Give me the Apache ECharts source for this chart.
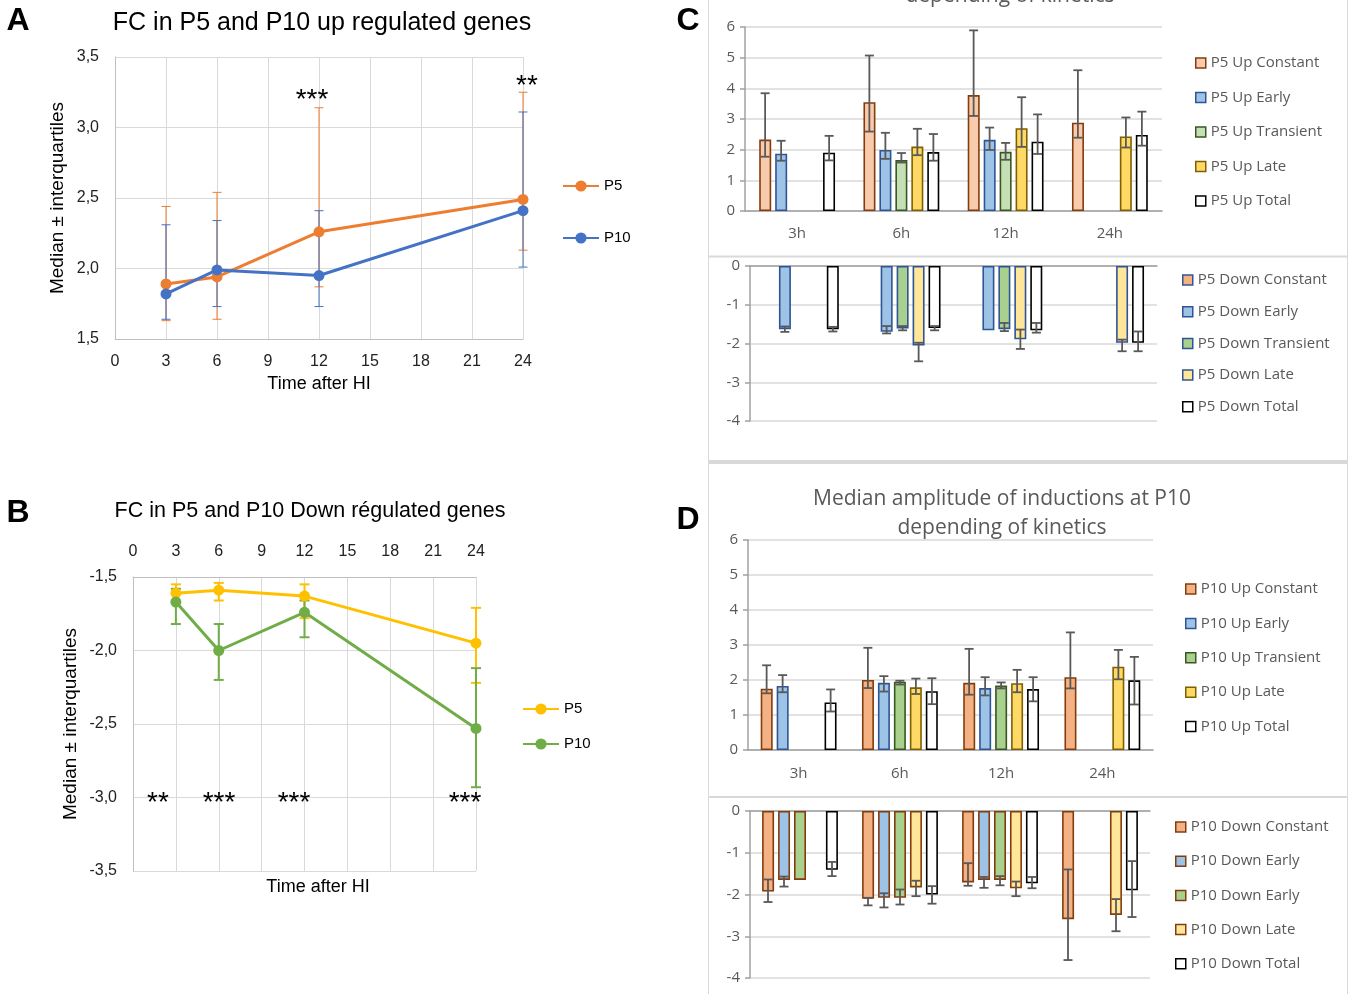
<!DOCTYPE html>
<html>
<head>
<meta charset="utf-8">
<script src="https://cdn.jsdelivr.net/npm/echarts@6/dist/echarts.min.js"></script>
<style>
html, body { margin: 0; padding: 0; background: #fff; }
#main { width: 1352px; height: 994px; }
</style>
</head>
<body>
<div id="main"></div>
<script>
// ---- data, panels A and B (median with interquartile range) ----
var times = [3, 6, 12, 24];
var aP5 = [1.89, 1.94, 2.26, 2.49];
var aP5Low = [1.63, 1.64, 1.87, 2.13];
var aP5High = [2.44, 2.54, 3.14, 3.25];
var aP10 = [1.82, 1.99, 1.95, 2.41];
var aP10Low = [1.64, 1.73, 1.73, 2.01];
var aP10High = [2.31, 2.34, 2.41, 3.11];

var bP5 = [-1.61, -1.59, -1.63, -1.95];
var bP5Low = [-1.67, -1.66, -1.78, -2.22];
var bP5High = [-1.55, -1.54, -1.55, -1.71];
var bP10 = [-1.67, -2.00, -1.74, -2.53];
var bP10Low = [-1.82, -2.20, -1.91, -2.93];
var bP10High = [-1.58, -1.82, -1.66, -2.12];

// ---- data, panels C and D (rows = kinetics, columns = hours) ----
var hours = ['3h', '6h', '12h', '24h'];

var cUpNames = ['P5 Up Constant', 'P5 Up Early', 'P5 Up Transient', 'P5 Up Late', 'P5 Up Total'];
var cUpMedian = [[2.33, 3.55, 3.78, 2.88], [1.87, 1.99, 2.32, null], [null, 1.66, 1.93, null], [null, 2.10, 2.70, 2.43], [1.90, 1.92, 2.26, 2.48]];
var cUpLow = [[1.77, 2.59, 3.10, 2.39], [1.64, 1.70, 1.99, null], [null, 1.58, 1.67, null], [null, 1.82, 2.09, 2.07], [1.65, 1.64, 1.86, 2.13]];
var cUpHigh = [[3.84, 5.07, 5.89, 4.59], [2.29, 2.55, 2.72, null], [null, 1.89, 2.22, null], [null, 2.68, 3.71, 3.05], [2.45, 2.51, 3.15, 3.24]];

var cDownNames = ['P5 Down Constant', 'P5 Down Early', 'P5 Down Transient', 'P5 Down Late', 'P5 Down Total'];
var cDownMedian = [[null, null, null, null], [-1.63, -1.70, -1.66, null], [null, -1.61, -1.63, null], [null, -2.05, -1.89, -1.98], [-1.63, -1.60, -1.66, -1.98]];
var cDownLow = [[null, null, null, null], [-1.70, -1.74, null, null], [null, -1.66, -1.68, null], [null, -2.46, -2.14, -2.20], [-1.69, -1.66, -1.72, -2.20]];
var cDownHigh = [[null, null, null, null], [-1.56, -1.55, null, null], [null, -1.55, -1.47, null], [null, -1.98, -1.64, -1.90], [-1.57, -1.55, -1.47, -1.69]];

var dUpNames = ['P10 Up Constant', 'P10 Up Early', 'P10 Up Transient', 'P10 Up Late', 'P10 Up Total'];
var dUpMedian = [[1.75, 2.00, 1.92, 2.08], [1.83, 1.92, 1.77, null], [null, 1.95, 1.84, null], [null, 1.79, 1.91, 2.38], [1.36, 1.68, 1.74, 1.99]];
var dUpLow = [[1.62, 1.77, 1.58, 1.76], [1.65, 1.67, 1.56, null], [null, 1.87, 1.76, null], [null, 1.60, 1.65, 2.02], [1.10, 1.31, 1.39, 1.30]];
var dUpHigh = [[2.42, 2.92, 2.89, 3.36], [2.14, 2.11, 2.08, null], [null, 1.98, 1.93, null], [null, 2.04, 2.29, 2.86], [1.73, 2.05, 2.08, 2.66]];

var dDownNames = ['P10 Down Constant', 'P10 Down Early', 'P10 Down Early', 'P10 Down Late', 'P10 Down Total'];
var dDownMedian = [[-1.93, -2.10, -1.71, -2.59], [-1.65, -2.08, -1.65, null], [-1.65, -2.08, -1.65, null], [null, -1.83, -1.85, -2.49], [-1.41, -2.00, -1.73, -1.90]];
var dDownLow = [[-2.18, -2.26, -1.79, -3.57], [-1.81, -2.31, -1.84, null], [null, -2.24, -1.78, null], [null, -2.04, -2.04, -2.88], [-1.56, -2.22, -1.85, -2.54]];
var dDownHigh = [[-1.64, -2.08, -1.25, -1.40], [-1.57, -1.97, -1.58, null], [null, -1.88, -1.56, null], [null, -1.67, -1.69, -2.11], [-1.22, -1.80, -1.58, -1.20]];

// ---- styles ----
var FONT = '"Liberation Sans", Arial, sans-serif';
var FONT2 = '"Open Sans", "Liberation Sans", sans-serif';
var GREY = '#595959';
var upFillC = ['#F8CBAD', '#9DC3E6', '#C5E0B4', '#FFD966', '#FFFFFF'];
var upBorder = ['#843C0C', '#2F5597', '#385723', '#7F6000', '#000000'];
var upFillD = ['#F4B183', '#9DC3E6', '#A9D18E', '#FFD966', '#FFFFFF'];
var downFill = ['#F4B183', '#9DC3E6', '#A9D18E', '#FFE699', '#FFFFFF'];
var cDownBorder = ['#2F5597', '#2F5597', '#2F5597', '#2F5597', '#000000'];
var dDownBorder = ['#843C0C', '#843C0C', '#843C0C', '#843C0C', '#000000'];

var comma = function (v) { return v.toFixed(1).replace('.', ','); };
var strip = function (n) { return n.split('|')[0]; };

function errSeries(id, gi, data, color, width, cap, offset, z) {
  return {
    type: 'custom', id: id, xAxisIndex: gi, yAxisIndex: gi, z: z, silent: true,
    data: data,
    renderItem: function (params, api) {
      var lo = api.coord([api.value(0), api.value(1)]);
      var hi = api.coord([api.value(0), api.value(2)]);
      var x = lo[0] + offset;
      var st = { stroke: color, lineWidth: width };
      return { type: 'group', children: [
        { type: 'line', shape: { x1: x, y1: lo[1], x2: x, y2: hi[1] }, style: st },
        { type: 'line', shape: { x1: x - cap, y1: lo[1], x2: x + cap, y2: lo[1] }, style: st },
        { type: 'line', shape: { x1: x - cap, y1: hi[1], x2: x + cap, y2: hi[1] }, style: st }
      ] };
    }
  };
}

function lineSeries(name, gi, ys, lo, hi, color, ew, cap) {
  return [
    errSeries(name + 'err', gi, times.map(function (t, i) { return [t, lo[i], hi[i]]; }), color, ew, cap, 0, 2),
    { type: 'line', name: name, xAxisIndex: gi, yAxisIndex: gi, z: 3,
      data: times.map(function (t, i) { return [t, ys[i]]; }),
      symbol: 'circle', symbolSize: 11, lineStyle: { width: 3, color: color }, itemStyle: { color: color } }
  ];
}

function barGroup(key, gi, labels, median, low, high, fills, borders) {
  var out = [];
  labels.forEach(function (lab, i) {
    out.push({ type: 'bar', name: lab + '|' + key + i, xAxisIndex: gi, yAxisIndex: gi,
      data: median[i].map(function (v) { return v == null ? '-' : v; }),
      barWidth: 12, barGap: '33%',
      itemStyle: { color: fills[i], borderColor: borders[i], borderWidth: 1.6 } });
  });
  labels.forEach(function (lab, i) {
    var d = [];
    low[i].forEach(function (v, j) { if (v != null) d.push([j, v, high[i][j]]); });
    out.push(errSeries(key + 'err' + i, gi, d, '#595959', 1.8, 4.5, (i - 2) * 16, 5));
  });
  return out;
}

// legend boxes carry a 5px padding, so positions are given 5px up/left
function barLegend(key, labels, left, top, gap) {
  return { orient: 'vertical', left: left - 5, top: top - 5, itemGap: gap, icon: 'rect',
    itemWidth: 10, itemHeight: 10, selectedMode: false, formatter: strip,
    itemStyle: { borderWidth: 1.5 },
    textStyle: { fontFamily: FONT2, fontSize: 15, color: GREY, lineHeight: 18 },
    data: labels.map(function (l, i) { return l + '|' + key + i; }) };
}
function lineLegend(names, left, top, gap) {
  return { orient: 'vertical', left: left - 5, top: top - 5, itemGap: gap, itemWidth: 36, itemHeight: 14,
    selectedMode: false, formatter: strip,
    textStyle: { fontFamily: FONT, fontSize: 15, color: '#000', lineHeight: 18 }, data: names };
}

function lineAxisX(gi, pos, margin, name) {
  return { type: 'value', gridIndex: gi, position: pos, min: 0, max: 24, interval: 3,
    axisLine: { show: true, lineStyle: { color: '#bfbfbf' } }, axisTick: { show: false },
    axisLabel: { fontFamily: FONT, fontSize: 16, color: '#222', margin: margin },
    splitLine: { show: true, lineStyle: { color: '#d9d9d9' } },
    name: name, nameLocation: 'middle', nameGap: 36,
    nameTextStyle: { fontFamily: FONT, fontSize: 18, color: '#000' } };
}
function lineAxisY(gi, min, max, gap) {
  return { type: 'value', gridIndex: gi, min: min, max: max, interval: 0.5,
    axisLine: { show: true, lineStyle: { color: '#bfbfbf' } }, axisTick: { show: false },
    axisLabel: { fontFamily: FONT, fontSize: 16, color: '#222', margin: 16, formatter: comma },
    splitLine: { show: true, lineStyle: { color: '#d9d9d9' } },
    name: 'Median ± interquartiles', nameLocation: 'middle', nameGap: gap,
    nameTextStyle: { fontFamily: FONT, fontSize: 19, color: '#000' } };
}
function barAxisX(gi, up, margin) {
  return { type: 'category', gridIndex: gi, data: hours, position: up ? 'bottom' : 'top',
    axisLine: { show: true, onZero: false, lineStyle: { color: '#a0a0a0', width: 1.5 } }, axisTick: { show: false },
    axisLabel: { show: up, fontFamily: FONT2, fontSize: 15, color: GREY, margin: margin } };
}
function barAxisY(gi, min, max) {
  return { type: 'value', gridIndex: gi, min: min, max: max, interval: 1,
    axisLine: { show: true, lineStyle: { color: '#a0a0a0', width: 1.5 } },
    axisTick: { show: true, length: 5, lineStyle: { color: '#a0a0a0', width: 1.5 } },
    axisLabel: { fontFamily: FONT2, fontSize: 15, color: GREY, margin: 10 },
    splitLine: { show: true, lineStyle: { color: '#d9d9d9', width: 1.5 } } };
}

function txt(text, x, y, size, opts) {
  opts = opts || {};
  return { type: 'text', x: x, y: y, z: 10, silent: true,
    style: { text: text, fontFamily: opts.family || FONT, fontSize: size, fontWeight: opts.weight || 'normal',
      fill: opts.color || '#000', align: 'center', verticalAlign: 'middle' } };
}
function rule(x1, y1, x2, y2, w) {
  return { type: 'line', silent: true, z: 0, shape: { x1: x1, y1: y1, x2: x2, y2: y2 },
    style: { stroke: '#d9d9d9', lineWidth: w } };
}

var series = []
  .concat(lineSeries('P5|A', 0, aP5, aP5Low, aP5High, '#ED7D31', 1, 4.5))
  .concat(lineSeries('P10|A', 0, aP10, aP10Low, aP10High, '#4472C4', 1, 4.5))
  .concat(lineSeries('P5|B', 1, bP5, bP5Low, bP5High, '#FFC000', 2, 5))
  .concat(lineSeries('P10|B', 1, bP10, bP10Low, bP10High, '#70AD47', 2, 5))
  .concat(barGroup('cu', 2, cUpNames, cUpMedian, cUpLow, cUpHigh, upFillC, upBorder))
  .concat(barGroup('cd', 3, cDownNames, cDownMedian, cDownLow, cDownHigh, downFill, cDownBorder))
  .concat(barGroup('du', 4, dUpNames, dUpMedian, dUpLow, dUpHigh, upFillD, upBorder))
  .concat(barGroup('dd', 5, dDownNames, dDownMedian, dDownLow, dDownHigh, downFill, dDownBorder));

var option = {
  animation: false,
  backgroundColor: '#fff',
  grid: [
    { left: 115, top: 57, width: 408, height: 282 },
    { left: 133, top: 577, width: 343, height: 294 },
    { left: 745, top: 27, width: 417, height: 184 },
    { left: 750, top: 266, width: 407, height: 155 },
    { left: 748, top: 540, width: 405, height: 210 },
    { left: 750, top: 811, width: 400, height: 167 }
  ],
  xAxis: [
    lineAxisX(0, 'bottom', 15, 'Time after HI'),
    lineAxisX(1, 'top', 17, ''),
    barAxisX(2, true, 15),
    barAxisX(3, false, 0),
    barAxisX(4, true, 16),
    barAxisX(5, false, 0)
  ],
  yAxis: [
    lineAxisY(0, 1.5, 3.5, 48),
    lineAxisY(1, -3.5, -1.5, 53),
    barAxisY(2, 0, 6),
    barAxisY(3, -4, 0),
    barAxisY(4, 0, 6),
    barAxisY(5, -4, 0)
  ],
  legend: [
    lineLegend(['P5|A', 'P10|A'], 562, 177, 34),
    lineLegend(['P5|B', 'P10|B'], 522, 700, 17),
    barLegend('cu', cUpNames, 1195, 54, 16.5),
    barLegend('cd', cDownNames, 1182, 271, 13.7),
    barLegend('dd', dDownNames, 1175, 818, 16.2),
    barLegend('du', dUpNames, 1185, 580, 16.4)
  ],
  graphic: [
    rule(708.5, 0, 708.5, 460, 1),
    rule(708.5, 464, 708.5, 994, 1),
    rule(1347.5, 0, 1347.5, 994, 1),
    rule(708, 256.5, 1347, 256.5, 2),
    rule(708, 462, 1347, 462, 4),
    rule(708, 797, 1347, 797, 2),
    txt('A', 18, 21, 32, { weight: 'bold' }),
    txt('B', 18, 513, 32, { weight: 'bold' }),
    txt('C', 688, 21, 32, { weight: 'bold' }),
    txt('D', 688, 520, 32, { weight: 'bold' }),
    txt('FC in P5 and P10 up regulated genes', 322, 23, 25),
    txt('FC in P5 and P10 Down régulated genes', 310, 511, 21.5),
    txt('Time after HI', 318, 887, 18),
    txt('depending of kinetics', 1010, -4, 21, { family: FONT2, color: GREY }),
    txt('Median amplitude of inductions at P10', 1002, 499, 21, { family: FONT2, color: GREY }),
    txt('depending of kinetics', 1002, 528, 21, { family: FONT2, color: GREY }),
    txt('***', 312, 100, 28),
    txt('**', 527, 86, 28),
    txt('**', 158, 803, 28),
    txt('***', 219, 803, 28),
    txt('***', 294, 803, 28),
    txt('***', 465, 803, 28)
  ],
  series: series
};

var myChart = echarts.init(document.getElementById('main'));
myChart.setOption(option);
</script>
</body>
</html>
